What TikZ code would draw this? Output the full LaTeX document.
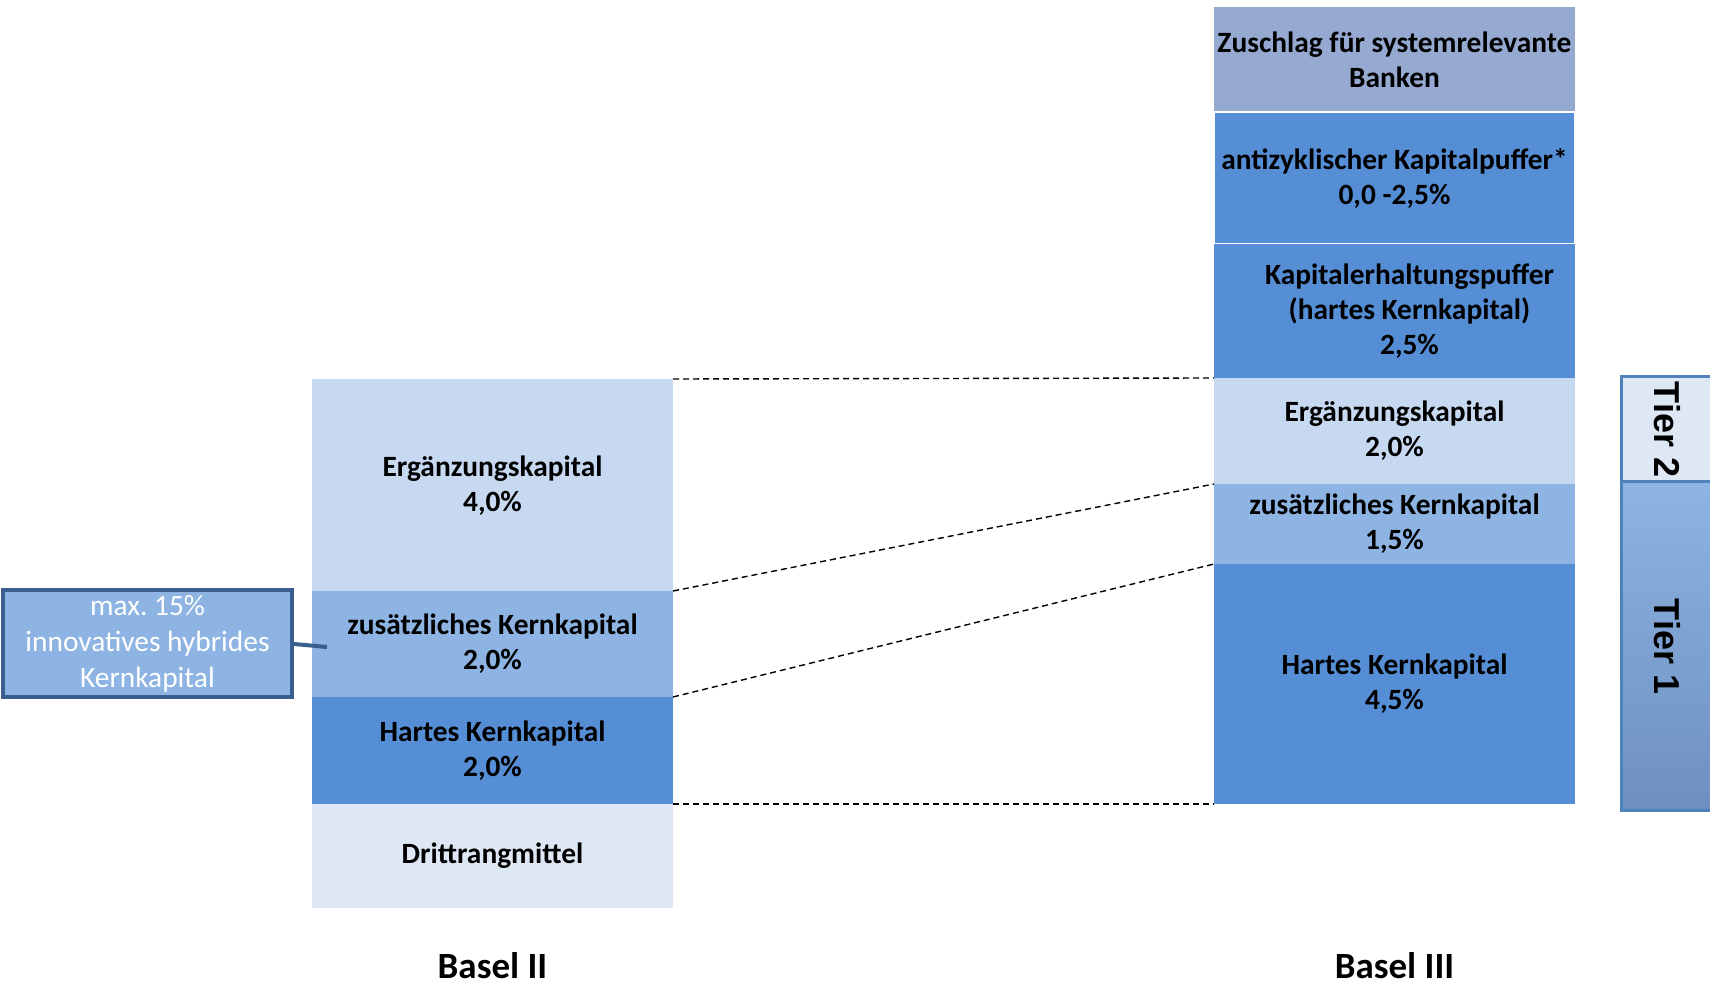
\documentclass[tikz,border=0pt]{standalone}
\usepackage{fontspec}
\setmainfont{Carlito}
\newfontfamily\tierfont{Liberation Sans}
\usetikzlibrary{positioning}
\definecolor{ergcol}{HTML}{C6D9F1}
\definecolor{zuscol}{HTML}{8EB4E3}
\definecolor{hartcol}{HTML}{558ED5}
\definecolor{drittcol}{HTML}{DEE8F4}
\definecolor{zuschlagcol}{HTML}{95A9D1}
\definecolor{calloutline}{HTML}{3A5F8E}
\definecolor{tierline}{HTML}{4F81BD}
\definecolor{tiertop}{HTML}{8DB4E2}
\definecolor{tierbottom}{HTML}{6E90C0}
\tikzset{every picture/.style={font issue=\fontsize{14.7}{17.5}},
         font issue/.style={execute at begin picture={#1\selectfont}},
         block/.style={minimum width=180.5pt, inner sep=0pt, outer sep=0pt, align=center, font=\bfseries},
         link/.style={dashed, dash pattern=on 3pt off 2pt, line width=0.7pt},
         tierbox/.style={draw=tierline, line width=1.5pt, minimum width=46pt, inner sep=0pt, font=\tierfont\fontsize{18}{18}\selectfont\bfseries},
         basel/.style={inner sep=0pt, font=\fontsize{18.5}{20}\selectfont\bfseries}
        }

\begin{document}
\begin{tikzpicture}[x=0.5pt, y=-0.5pt]
        \useasboundingbox (0,0) rectangle (1710,983);
        \clip (0,0) rectangle (1710,983);
        \node [block, fill=ergcol, minimum height=106.5pt] (l-erg) at (492.5,485.5) {Ergänzungskapital\\4,0\%};
        \node [block, fill=zuscol, minimum height=53pt] (l-zus) at (492.5,644) {zusätzliches Kernkapital\\2,0\%};
        \node [block, fill=hartcol, minimum height=53.5pt] (l-hart) at (492.5,750.5) {Hartes Kernkapital\\2,0\%};
        \node [block, fill=drittcol, minimum height=52pt] (l-dritt) at (492.5,856) {Drittrangmittel};
        \node [block, fill=zuschlagcol, minimum height=52.5pt] (r-zuschlag) at (1394.5,59.5) {Zuschlag für systemrelevante\\Banken};
        \node [block, fill=hartcol, draw=white, line width=0.6pt, minimum height=66pt] (r-anti) at (1394.5,178) {antizyklischer Kapitalpuffer*\\0,0 -2,5\%};
        \node [block, fill=hartcol, minimum height=67pt, label={[xshift=7.5pt, align=center, font=\bfseries]center:Kapitalerhaltungspuffer\\(hartes Kernkapital)\\2,5\%}] (r-erhalt) at (1394.5,311) {};
        \node [block, fill=ergcol, minimum height=53pt] (r-erg) at (1394.5,431) {Ergänzungskapital\\2,0\%};
        \node [block, fill=zuscol, minimum height=40pt] (r-zus) at (1394.5,524) {zusätzliches Kernkapital\\1,5\%};
        \node [block, fill=hartcol, minimum height=120pt] (r-hart) at (1394.5,684) {Hartes Kernkapital\\4,5\%};
        \draw [link] (l-erg.north east) -- (r-erg.north west);
        \draw [link] (l-zus.north east) -- (r-zus.north west);
        \draw [link] (l-hart.north east) -- (r-hart.north west);
        \draw [link] (l-hart.south east) -- (r-hart.south west);
        \node [draw=calloutline, line width=2pt, fill=zuscol, text=white, align=center, minimum width=144.5pt, minimum height=53.5pt, inner sep=0pt, font=\fontsize{14.7}{18}\selectfont] (callout) at (147.5,644) {max.\ 15\%\\innovatives hybrides\\Kernkapital};
        \coordinate (callout-end) at (327,647);
        \draw [calloutline, line width=2pt] (callout.east) -- (callout-end);
        \node [tierbox, fill=drittcol, minimum height=52.5pt] (tier-2) at (1667,429.5) {\rotatebox{-90}{Tier 2}};
        \node [tierbox, top color=tiertop, bottom color=tierbottom, minimum height=164.5pt] (tier-1) at (1667,646.5) {\rotatebox{-90}{Tier 1}};
        \node [basel] (basel-2) at (492.5,966) {Basel II};
        \node [basel] (basel-3) at (1394.5,966) {Basel III};
      \end{tikzpicture}
\end{document}
